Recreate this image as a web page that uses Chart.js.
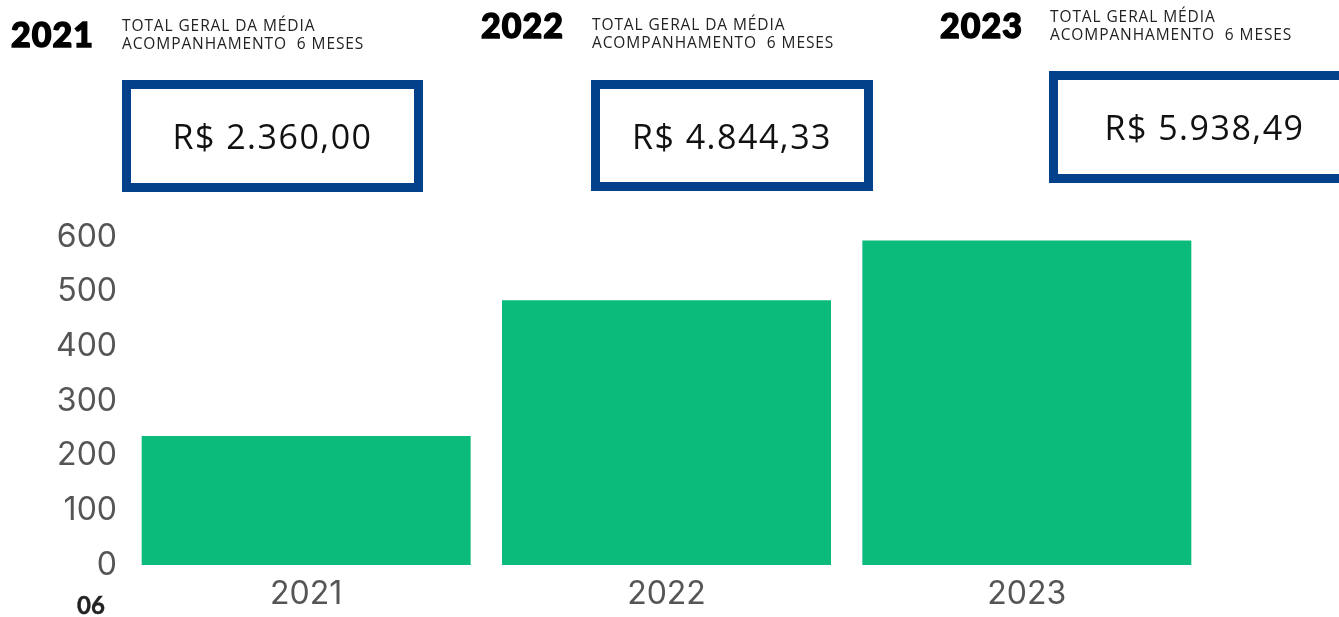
<!DOCTYPE html>
<html>
<head>
<meta charset="utf-8">
<script src="https://cdn.jsdelivr.net/npm/chart.js@4"></script>
<style>
  html, body { margin:0; padding:0; background:#fff; }
  body { width:1339px; height:617px; position:relative; overflow:hidden; }
  #c { position:absolute; left:0; top:0; }
  .yr { position:absolute; font-family:"Lato","DejaVu Sans",sans-serif; font-weight:900; font-size:34px; line-height:1; color:#000; -webkit-text-stroke:1.4px #000; letter-spacing:1px; }
  .sub { position:absolute; font-family:"Open Sans","Noto Sans",sans-serif; font-weight:400; font-size:15.5px; line-height:18px; color:#222; white-space:pre; letter-spacing:0.9px; }
  .box { position:absolute; box-sizing:border-box; border:9px solid #03418a; display:flex; align-items:center; justify-content:center; }
  .val { font-family:"Open Sans","Noto Sans",sans-serif; font-size:34px; line-height:1; color:#111; letter-spacing:1.5px; white-space:pre; }
  .pg { position:absolute; left:77px; top:593px; font-family:"Lato","DejaVu Sans",sans-serif; font-weight:700; font-size:24px; line-height:1; color:#222; -webkit-text-stroke:0.4px #222; }
</style>
</head>
<body>
<canvas id="c" width="1339" height="617"></canvas>

<div class="yr" style="left:11px;top:17px;">2021</div>
<div class="sub" style="left:122px;top:16px;">TOTAL GERAL DA MÉDIA
ACOMPANHAMENTO  6 MESES</div>
<div class="box" style="left:122px;top:80px;width:301px;height:112px;"><span class="val">R$ 2.360,00</span></div>

<div class="yr" style="left:481px;top:8px;">2022</div>
<div class="sub" style="left:592px;top:15px;">TOTAL GERAL DA MÉDIA
ACOMPANHAMENTO  6 MESES</div>
<div class="box" style="left:591px;top:80px;width:282px;height:111px;"><span class="val">R$ 4.844,33</span></div>

<div class="yr" style="left:940px;top:8px;">2023</div>
<div class="sub" style="left:1050px;top:7px;">TOTAL GERAL MÉDIA
ACOMPANHAMENTO  6 MESES</div>
<div class="box" style="left:1049px;top:71px;width:311px;height:112px;"><span class="val">R$ 5.938,49</span></div>

<div class="pg">06</div>

<script>
const categories = ["2021", "2022", "2023"];
const values = [236, 484.4, 593.8];
const yTicks = [0, 100, 200, 300, 400, 500, 600];

new Chart(document.getElementById('c'), {
  type: 'bar',
  data: {
    labels: categories,
    datasets: [{
      data: values,
      backgroundColor: '#0bbb7b',
      borderWidth: 0,
      barPercentage: 0.913,
      categoryPercentage: 1.0
    }]
  },
  options: {
    responsive: false,
    animation: false,
    layout: { padding: { top: 237, right: 132, bottom: 0, left: 0 } },
    plugins: { legend: { display: false }, tooltip: { enabled: false } },
    scales: {
      x: {
        grid: { display: false, drawTicks: false },
        border: { display: false },
        ticks: { color: '#555', font: { family: 'Inter, Liberation Sans, sans-serif', size: 32 }, padding: 10 },
        afterFit: s => { s.height = 52; }
      },
      y: {
        min: 0, max: 600,
        grid: { display: false, drawTicks: false },
        border: { display: false },
        afterBuildTicks: s => { s.ticks = yTicks.map(v => ({ value: v })); },
        ticks: { color: '#555', font: { family: 'Inter, Liberation Sans, sans-serif', size: 32 }, padding: 9 },
        afterFit: s => { s.width = 126; }
      }
    }
  }
});
</script>
</body>
</html>
